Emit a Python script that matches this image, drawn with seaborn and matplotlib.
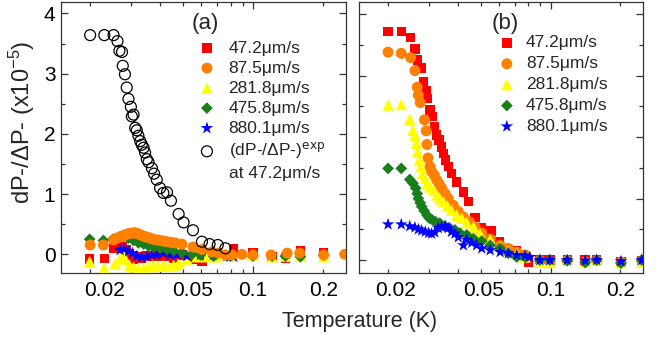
import numpy as np
import pandas as pd
import matplotlib
matplotlib.use("Agg")
import matplotlib.pyplot as plt
import matplotlib.transforms as mtransforms
import seaborn as sns
from matplotlib.ticker import FixedLocator, FuncFormatter
from matplotlib.lines import Line2D

# ---------------- data ----------------
SERIES_LABELS = ["47.2μm/s", "87.5μm/s", "281.8μm/s", "475.8μm/s", "880.1μm/s"]
EXP_LABEL = "(dP-/ΔP-)$^{\\mathrm{exp}}$"
EXP_LABEL2 = "at 47.2μm/s"

# panel (a)
T_a_exp = [0.0200, 0.0230, 0.0252, 0.0262, 0.0267, 0.0274, 0.0276, 0.0282, 0.0287, 0.0292,
           0.0299, 0.0302, 0.0307, 0.0312, 0.0317, 0.0322, 0.0328, 0.0333, 0.0339, 0.0344,
           0.0350, 0.0356, 0.0368, 0.0376, 0.0386, 0.0399, 0.0412, 0.0427, 0.0444, 0.0479,
           0.0503, 0.0552, 0.0603, 0.0650, 0.0705, 0.0760]
V_a_exp = [3.64, 3.64, 3.64, 3.54, 3.38, 3.36, 3.13, 2.99, 2.77, 2.58,
           2.45, 2.29, 2.32, 2.10, 2.06, 1.97, 1.88, 1.82, 1.77, 1.69,
           1.58, 1.53, 1.43, 1.34, 1.24, 1.10, 1.02, 1.03, 0.89, 0.67,
           0.53, 0.40, 0.21, 0.17, 0.155, 0.10]

T_a_red = [0.0199, 0.0230, 0.0252, 0.0262, 0.0274, 0.0285, 0.0295, 0.0307, 0.0319, 0.0333,
           0.0350, 0.0368, 0.0386, 0.0406, 0.0427, 0.0456, 0.0495, 0.0546, 0.0603, 0.0650,
           0.0705, 0.0824, 0.0997, 0.1205, 0.1375, 0.1594, 0.2006]
V_a_red = [-0.08, -0.07, 0.10, 0.10, 0.13, 0.08, -0.01, -0.08, -0.04, -0.07,
           -0.03, -0.04, -0.03, -0.04, -0.03, -0.06, -0.01, -0.08, -0.11, -0.01,
           0.02, 0.10, 0.03, -0.04, -0.06, 0.06, 0.03]

T_a_orange = [0.0200, 0.0228, 0.0252, 0.0260, 0.0269, 0.0276, 0.0283, 0.0290, 0.0297, 0.0303,
              0.0309, 0.0315, 0.0322, 0.0330, 0.0339, 0.0347, 0.0356, 0.0365, 0.0374, 0.0386,
              0.0399, 0.0412, 0.0427, 0.0445, 0.0463, 0.0495, 0.0552, 0.0603, 0.0666, 0.0711,
              0.0760, 0.0811, 0.0895, 0.0998, 0.1193, 0.1398, 0.1583, 0.2006, 0.247]
V_a_orange = [0.155, 0.155, 0.24, 0.27, 0.29, 0.31, 0.32, 0.34, 0.35, 0.35,
              0.36, 0.35, 0.34, 0.32, 0.30, 0.29, 0.28, 0.26, 0.25, 0.24,
              0.23, 0.22, 0.21, 0.20, 0.19, 0.17, 0.12, 0.08, 0.04, 0.02,
              -0.01, -0.01, 0.00, -0.01, -0.01, 0.02, 0.02, -0.01, 0.00]

T_a_yellow = [0.0199, 0.0230, 0.0256, 0.0269, 0.0276, 0.0283, 0.0295, 0.0307, 0.0322, 0.0339,
              0.0356, 0.0374, 0.0393, 0.0412, 0.0434, 0.0456, 0.0479, 0.0520, 0.0574, 0.0634,
              0.0700, 0.0824, 0.0997, 0.1205, 0.1375, 0.1594, 0.2006]
V_a_yellow = [-0.12, -0.23, -0.15, -0.07, 0.00, -0.08, -0.18, -0.21, -0.23, -0.23,
              -0.21, -0.18, -0.20, -0.18, -0.20, -0.18, -0.15, -0.08, -0.04, -0.04,
              -0.04, -0.03, -0.01, -0.04, -0.03, -0.03, -0.04]

T_a_green = [0.0199, 0.0228, 0.0250, 0.0265, 0.0279, 0.0292, 0.0307, 0.0322, 0.0339, 0.0356,
             0.0374, 0.0399, 0.0427, 0.0456, 0.0495, 0.0546, 0.0594, 0.0677, 0.0772, 0.0997,
             0.1205, 0.1375, 0.1594, 0.2006]
V_a_green = [0.25, 0.23, 0.25, 0.28, 0.30, 0.27, 0.23, 0.19, 0.17, 0.14,
             0.12, 0.10, 0.08, 0.06, 0.03, 0.00, -0.01, -0.03, -0.03, -0.03,
             -0.03, -0.03, -0.04, -0.01]

T_a_blue = [0.0269, 0.0280, 0.0292, 0.0304, 0.0317, 0.0333, 0.0350, 0.0368, 0.0386, 0.0412,
            0.0440, 0.0470, 0.0520, 0.0594, 0.0677, 0.0772, 0.0824]
V_a_blue = [0.07, 0.09, 0.05, 0.02, -0.03, -0.05, -0.04, -0.01, -0.01, 0.02,
            -0.01, -0.01, -0.03, -0.01, -0.01, -0.03, -0.04]

# panel (b)
T_b_red = [0.0200, 0.0228, 0.0250, 0.0261, 0.0268, 0.0279, 0.0284, 0.0291, 0.0296, 0.0303,
           0.0311, 0.0316, 0.0324, 0.0332, 0.0340, 0.0346, 0.0354, 0.0363, 0.0375, 0.0395,
           0.0422, 0.0443, 0.0473, 0.0506, 0.0555, 0.0602, 0.0658, 0.0715, 0.0764, 0.0802,
           0.0900, 0.0994, 0.118, 0.141, 0.158, 0.201, 0.247]
V_b_red = [3.72, 3.72, 3.62, 3.43, 3.25, 3.12, 2.90, 2.76, 2.63, 2.44,
           2.33, 2.17, 2.03, 1.95, 1.84, 1.73, 1.63, 1.52, 1.41, 1.27,
           1.11, 0.95, 0.69, 0.52, 0.47, 0.30, 0.17, 0.15, 0.08, -0.03,
           0.01, 0.00, 0.01, 0.00, 0.01, -0.02, -0.01]

T_b_orange = [0.0200, 0.0228, 0.0250, 0.0261, 0.0267, 0.0270, 0.0275, 0.0287, 0.0292, 0.0294,
              0.0297, 0.0303, 0.0308, 0.0316, 0.0324, 0.0332, 0.0340, 0.0352, 0.0363, 0.0382,
              0.0401, 0.0422, 0.0448, 0.0473, 0.0506, 0.0550, 0.0607, 0.0659, 0.0716, 0.0777,
              0.0900, 0.0994, 0.118, 0.141, 0.158, 0.201, 0.247]
V_b_orange = [3.38, 3.36, 3.29, 3.08, 2.81, 2.68, 2.56, 2.28, 2.10, 1.88,
              1.66, 1.52, 1.44, 1.38, 1.30, 1.24, 1.17, 1.08, 1.00, 0.89,
              0.79, 0.70, 0.62, 0.54, 0.44, 0.34, 0.24, 0.19, 0.13, 0.08,
              -0.01, -0.03, -0.01, -0.03, -0.01, -0.03, -0.01]

T_b_yellow = [0.0200, 0.0228, 0.0248, 0.0256, 0.0261, 0.0265, 0.0268, 0.0273, 0.0277, 0.0282,
              0.0289, 0.0295, 0.0303, 0.0313, 0.0324, 0.0334, 0.0346, 0.0360, 0.0375, 0.0395,
              0.0415, 0.0436, 0.0466, 0.0497, 0.0550, 0.0607, 0.0659, 0.0716, 0.0777, 0.0900,
              0.0994, 0.118, 0.141, 0.158, 0.201, 0.247]
V_b_yellow = [2.52, 2.53, 2.29, 2.11, 2.03, 1.90, 1.76, 1.63, 1.52, 1.41,
              1.33, 1.25, 1.19, 1.14, 1.06, 1.00, 0.95, 0.88, 0.81, 0.73,
              0.68, 0.61, 0.54, 0.43, 0.33, 0.22, 0.15, 0.11, 0.05, -0.03,
              -0.04, 0.00, -0.03, 0.00, -0.04, -0.03]

T_b_green = [0.0200, 0.0228, 0.0248, 0.0256, 0.0263, 0.0267, 0.0270, 0.0275, 0.0279, 0.0286,
             0.0294, 0.0301, 0.0311, 0.0321, 0.0334, 0.0352, 0.0369, 0.0388, 0.0408, 0.0436,
             0.0466, 0.0506, 0.0550, 0.0607, 0.0659, 0.0716, 0.0777, 0.0900, 0.0994, 0.118,
             0.141, 0.158, 0.201, 0.247]
V_b_green = [1.49, 1.49, 1.31, 1.25, 1.17, 1.08, 1.00, 0.93, 0.87, 0.80,
             0.73, 0.68, 0.65, 0.62, 0.60, 0.55, 0.52, 0.49, 0.44, 0.41,
             0.35, 0.31, 0.24, 0.19, 0.11, 0.05, 0.05, 0.00, 0.00, -0.01,
             -0.04, 0.00, -0.05, 0.00]

T_b_blue = [0.0200, 0.0228, 0.0248, 0.0261, 0.0270, 0.0279, 0.0289, 0.0299, 0.0308, 0.0318,
            0.0329, 0.0340, 0.0352, 0.0363, 0.0375, 0.0388, 0.0401, 0.0422, 0.0436, 0.0458,
            0.0481, 0.0506, 0.0550, 0.0607, 0.0659, 0.0716, 0.0777, 0.0815, 0.0900, 0.0994,
            0.118, 0.141, 0.158, 0.201, 0.247]
V_b_blue = [0.58, 0.58, 0.55, 0.53, 0.50, 0.48, 0.46, 0.44, 0.43, 0.45,
            0.52, 0.54, 0.55, 0.52, 0.46, 0.43, 0.37, 0.24, 0.33, 0.28,
            0.24, 0.19, 0.16, 0.13, 0.11, 0.08, 0.07, 0.05, 0.00, 0.00,
            0.00, -0.01, 0.00, -0.02, 0.00]

XTICK_MAJOR = [0.1]
XTICK_MINOR = [0.02, 0.03, 0.04, 0.05, 0.06, 0.07, 0.08, 0.09, 0.2]
XTICK_LABELS = {0.02: "0.02", 0.05: "0.05", 0.1: "0.1", 0.2: "0.2"}
YTICKS = [0, 1, 2, 3, 4]
YTICKS_MINOR = [0.5, 1.5, 2.5, 3.5]

# ---------------- style ----------------
COLORS = ["#ff0000", "#ff8000", "#ffff00", "#1a7f1a", "#0000ff"]
MARKERS = ["s", "o", "^", "D", "*"]
SIZES = [46, 62, 68, 36, 90]
# horizontal nudges (px) of the x tick labels seen in the original
LABEL_SHIFT_A = {"0.02": 14, "0.05": 10}
LABEL_SHIFT_B = {"0.02": 7, "0.05": 3}

sns.set_style("ticks")
plt.rcParams["font.family"] = ["Liberation Sans", "DejaVu Sans"]
plt.rcParams["mathtext.default"] = "regular"
plt.rcParams["axes.edgecolor"] = "#333333"
plt.rcParams["axes.linewidth"] = 0.9

fig = plt.figure(figsize=(6.68, 3.43), dpi=100)
W, H = 668, 343
axA = fig.add_axes([61 / W, (H - 273) / H, 285 / W, 271 / H])
axB = fig.add_axes([359 / W, (H - 273) / H, 284 / W, 271 / H])

def scat(ax, T, V, i, z):
    sns.scatterplot(x=np.asarray(T), y=np.asarray(V), ax=ax, marker=MARKERS[i],
                    color=COLORS[i], s=SIZES[i], linewidth=0, edgecolor="none",
                    label=SERIES_LABELS[i], zorder=z, clip_on=True, legend=False)

# panel (a): draw order red, yellow, blue, green, orange, open circles
scat(axA, T_a_red, V_a_red, 0, 2)
scat(axA, T_a_yellow, V_a_yellow, 2, 3)
scat(axA, T_a_blue, V_a_blue, 4, 4)
scat(axA, T_a_green, V_a_green, 3, 5)
scat(axA, T_a_orange, V_a_orange, 1, 6)
sns.scatterplot(x=np.asarray(T_a_exp), y=np.asarray(V_a_exp), ax=axA, marker="o",
                facecolor="none", edgecolor="black", linewidth=0.9, s=62,
                label=EXP_LABEL, zorder=7, legend=False)

# panel (b): red, orange, yellow, green, blue
scat(axB, T_b_red, V_b_red, 0, 2)
scat(axB, T_b_orange, V_b_orange, 1, 3)
scat(axB, T_b_yellow, V_b_yellow, 2, 4)
scat(axB, T_b_green, V_b_green, 3, 5)
scat(axB, T_b_blue, V_b_blue, 4, 6)

def fmt_x(v, pos):
    for k, s in XTICK_LABELS.items():
        if abs(v - k) < 1e-9:
            return s
    return ""

for ax, ylim in ((axA, (-0.31, 4.19)), (axB, (-0.21, 4.195))):
    ax.set_xscale("log")
    ax.set_xlim(0.015, 0.25)
    ax.set_ylim(*ylim)
    ax.xaxis.set_major_locator(FixedLocator(XTICK_MAJOR))
    ax.xaxis.set_minor_locator(FixedLocator(XTICK_MINOR))
    ax.xaxis.set_major_formatter(FuncFormatter(fmt_x))
    ax.xaxis.set_minor_formatter(FuncFormatter(fmt_x))
    ax.yaxis.set_major_locator(FixedLocator(YTICKS))
    ax.yaxis.set_minor_locator(FixedLocator(YTICKS_MINOR))
    ax.tick_params(which="both", direction="in", top=True, right=True, color="#333333",
                   width=0.9, labelsize=15, labelcolor="black")
    ax.tick_params(which="major", length=5)
    ax.tick_params(which="minor", length=2.8)
    ax.tick_params(axis="x", which="both", pad=6)
    ax.tick_params(axis="y", which="both", pad=4)
    ax.set_xlabel("")
    ax.set_ylabel("")
    for sp in ax.spines.values():
        sp.set_visible(True)

axB.tick_params(axis="y", labelleft=False)

axA.set_ylabel("dP-/ΔP- (x10$^{-5}$)", fontsize=17)
axA.yaxis.set_label_coords(-0.085, 0.555)
fig.text(360 / W, 1 - 322 / H, "Temperature (K)", ha="center", va="center", fontsize=15.5)

axA.text(0.505, 0.9225, "(a)", transform=axA.transAxes, ha="center", va="center", fontsize=16)
axB.text(0.514, 0.9225, "(b)", transform=axB.transAxes, ha="center", va="center", fontsize=16)

# legends
blank = Line2D([], [], linestyle="none", marker=None)
hA, lA = axA.get_legend_handles_labels()
dA = dict(zip(lA, hA))
handlesA = [dA[l] for l in SERIES_LABELS] + [dA[EXP_LABEL], blank]
labelsA = SERIES_LABELS + [EXP_LABEL, EXP_LABEL2]
axA.legend(handlesA, labelsA, loc="upper left", bbox_to_anchor=(0.4846, 0.858),
           frameon=False, fontsize=12.5, borderpad=0, borderaxespad=0,
           handlelength=0.9, handletextpad=0.8, labelspacing=0.28, scatterpoints=1)

hB, lB = axB.get_legend_handles_labels()
dB = dict(zip(lB, hB))
axB.legend([dB[l] for l in SERIES_LABELS], SERIES_LABELS, loc="upper left",
           bbox_to_anchor=(0.493, 0.877), frameon=False, fontsize=12.5, borderpad=0,
           borderaxespad=0, handlelength=0.9, handletextpad=0.65, labelspacing=0.33,
           scatterpoints=1)

# nudge x tick labels like in the original figure
fig.canvas.draw()
for ax, shifts in ((axA, LABEL_SHIFT_A), (axB, LABEL_SHIFT_B)):
    for lbl in ax.get_xticklabels(which="both"):
        dx = shifts.get(lbl.get_text(), 0)
        if dx:
            lbl.set_transform(lbl.get_transform() +
                              mtransforms.ScaledTranslation(dx / 100, 0, fig.dpi_scale_trans))

fig.savefig("out.png", dpi=100)
